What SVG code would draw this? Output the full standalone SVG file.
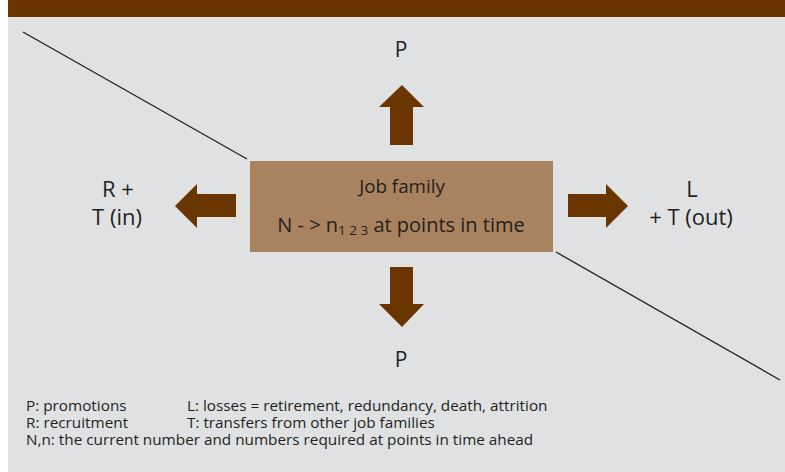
<svg xmlns="http://www.w3.org/2000/svg" width="785" height="472" viewBox="0 0 785 472">
<style>
.lbl{font-family:"Open Sans","DejaVu Sans",sans-serif;font-size:22px;fill:#231f20;text-anchor:middle}
.box{font-size:18.8px}
.p{font-size:21px}
.sub{font-size:13.5px}
.leg{font-family:"Open Sans","DejaVu Sans",sans-serif;font-size:15.3px;fill:#231f20}
.arrow{fill:#6b3500}
.diag{stroke:#231f20;stroke-width:1.3;fill:none}
</style>
<rect x="0" y="0" width="785" height="472" fill="#ffffff"/>
<rect x="8" y="0" width="777" height="472" fill="#e0e1e3"/>
<rect x="8" y="0" width="777" height="17" fill="#6b3500"/>
<g id="connectors">
<line class="diag" x1="23" y1="32" x2="247" y2="159"/>
<line class="diag" x1="556" y1="252" x2="780" y2="380"/>
<polygon id="arrow-up" class="arrow" points="402,85 424,107 413,107 413,145 390,145 390,107 379,107"/>
<polygon id="arrow-down" class="arrow" points="402,327 424,304 413,304 413,267 390,267 390,304 379,304"/>
<polygon id="arrow-left" class="arrow" points="175,206 197,184 197,194 236,194 236,217 197,217 197,228"/>
<polygon id="arrow-right" class="arrow" points="628,206 606,184 606,194 568,194 568,217 606,217 606,228"/>
</g>
<g id="job-family">
<rect x="250" y="161" width="303" height="91" fill="#a9825f"/>
<text class="lbl box" x="402" y="193">Job family</text>
<text class="lbl box" x="401" y="232" style="font-size:20px">N - &gt; n<tspan class="sub" dy="3">1 2 3</tspan><tspan dy="-3"> at points in time</tspan></text>
</g>
<g id="p-top"><text class="lbl p" x="401" y="57">P</text></g>
<g id="p-bottom"><text class="lbl p" x="401" y="367">P</text></g>
<g id="r-t-in"><text class="lbl" x="118" y="197">R +</text><text class="lbl" x="117" y="225">T (in)</text></g>
<g id="l-t-out"><text class="lbl" x="692" y="197">L</text><text class="lbl" x="691" y="225">+ T (out)</text></g>
<g id="legend">
<text class="leg" x="26" y="411">P: promotions</text>
<text class="leg" x="187" y="411">L: losses = retirement, redundancy, death, attrition</text>
<text class="leg" x="26" y="428">R: recruitment</text>
<text class="leg" x="187" y="428">T: transfers from other job families</text>
<text class="leg" x="26" y="445">N,n: the current number and numbers required at points in time ahead</text>
</g>
</svg>
